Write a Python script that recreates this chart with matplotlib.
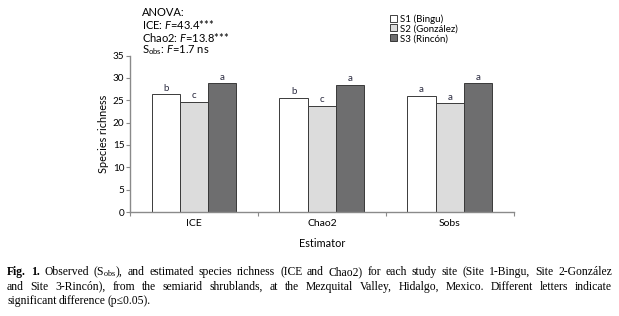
import matplotlib.pyplot as plt
import numpy as np

plt.rcParams['font.family'] = ['Lato', 'DejaVu Sans']
plt.rcParams['mathtext.fontset'] = 'custom'
plt.rcParams['mathtext.rm'] = 'Liberation Serif'
plt.rcParams['mathtext.it'] = 'Lato:italic'
plt.rcParams['mathtext.sf'] = 'Lato'

estimators = ['ICE', 'Chao2', 'Sobs']
sites = ['S1 (Bingu)', 'S2 (González)', 'S3 (Rincón)']
s1 = [26.3, 25.5, 26.0]
s2 = [24.7, 23.8, 24.3]
s3 = [28.8, 28.4, 28.8]
letters_s1 = ['b', 'b', 'a']
letters_s2 = ['c', 'c', 'a']
letters_s3 = ['a', 'a', 'a']
colors = ['white', '#dcdcdc', '#6e6e6f']

fig = plt.figure(figsize=(6.19, 3.16), dpi=100)
ax = fig.add_axes([0.210, 0.329, 0.620, 0.495])

x = np.arange(len(estimators))
w = 0.221
grey = '#8a8a8a'
for i, (vals, labs) in enumerate(zip([s1, s2, s3], [letters_s1, letters_s2, letters_s3])):
    pos = x + (i - 1) * w
    ax.bar(pos, vals, w, color=colors[i], edgecolor='#3a3a3a', linewidth=0.7,
           label=sites[i], zorder=2)
    for p, v, l in zip(pos, vals, labs):
        ax.text(p, v + 0.4, l, ha='center', va='bottom', fontsize=7, color='#2b2b40')

ax.set_xlim(-0.5, 2.5)
ax.set_ylim(0, 35)
ax.set_yticks(range(0, 36, 5))
ax.set_xticks([-0.5, 0.5, 1.5, 2.5])
ax.set_xticklabels([])
ax.set_xticks(x, minor=True)
ax.set_xticklabels(estimators, minor=True, fontsize=7.5)
ax.tick_params(axis='x', which='minor', length=0, pad=5)
ax.tick_params(axis='x', which='major', length=3, color=grey, width=0.8)
ax.tick_params(axis='y', length=3, color=grey, width=0.8, labelsize=7.2, pad=1)
for s in ['top', 'right']:
    ax.spines[s].set_visible(False)
for s in ['left', 'bottom']:
    ax.spines[s].set_color(grey)
    ax.spines[s].set_linewidth(1.0)

ax.set_ylabel('Species richness', fontsize=7.8, labelpad=3)
ax.set_xlabel('Estimator', fontsize=7.8, labelpad=7)

leg = fig.legend(loc='upper left', bbox_to_anchor=(0.624, 0.968), frameon=False,
                 fontsize=7, handlelength=0.75, handleheight=0.75, handletextpad=0.3,
                 labelspacing=0.08, borderaxespad=0)
for h in leg.legend_handles:
    h.set_edgecolor('#222222')
    h.set_linewidth(0.6)

anova = ['ANOVA:', r'ICE: $F$=43.4***', r'Chao2: $F$=13.8***', r'S$_{\mathsf{obs}}$: $F$=1.7 ns']
fig.text(0.229, 0.978, '\n'.join(anova), fontsize=8, va='top', ha='left',
         linespacing=0.98)

# caption, justified by hand
caption = [
    r'Fig. 1. Observed (S$_{\mathrm{obs}}$), and estimated species richness (ICE and Chao2) for each study site (Site 1-Bingu, Site 2-González',
    'and Site 3-Rincón), from the semiarid shrublands, at the Mezquital Valley, Hidalgo, Mexico. Different letters indicate',
    'significant difference (p≤0.05).',
]
cap_y = [0.139, 0.093, 0.047]
x0, x1 = 7 / 619, 612 / 619
serif = ['Liberation Serif', 'DejaVu Serif']
renderer = fig.canvas.get_renderer()
for k, line in enumerate(caption):
    words = line.split(' ')
    texts = []
    for j, wd in enumerate(words):
        bold = k == 0 and j < 2
        texts.append(fig.text(0, cap_y[k], wd, fontsize=8.4, va='center', ha='left',
                              family=serif, weight='bold' if bold else 'normal'))
    widths = [t.get_window_extent(renderer).width / fig.bbox.width for t in texts]
    if k < len(caption) - 1:
        gap = (x1 - x0 - sum(widths)) / (len(words) - 1)
    else:
        gap = 2.2 / 619
    xp = x0
    for t, wd in zip(texts, widths):
        t.set_x(xp)
        xp += wd + gap

fig.savefig('out.png', dpi=100)
